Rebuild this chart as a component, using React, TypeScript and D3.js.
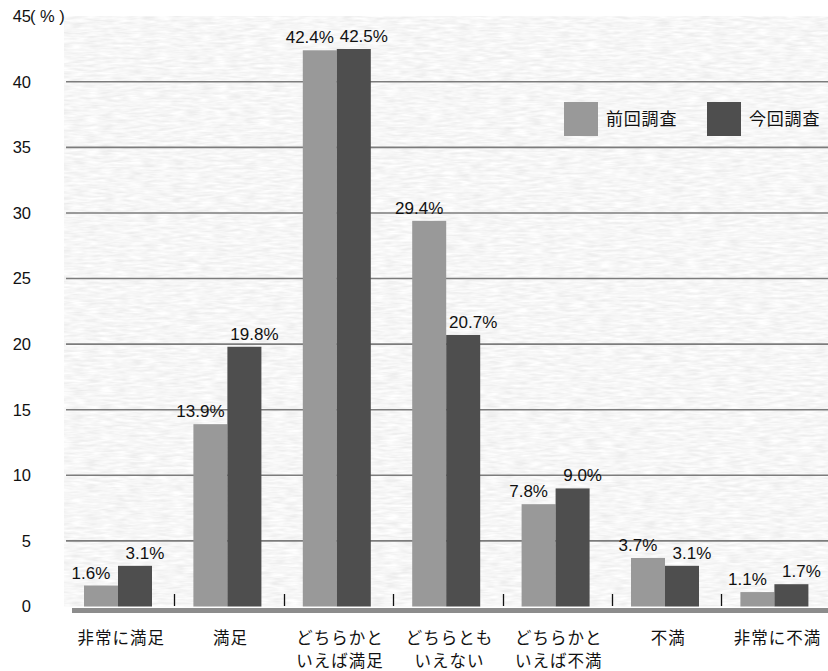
import React from "react";
import * as d3 from "d3";

// 満足度調査：前回と今回の回答割合（%）
const categories: string[][] = [
  ["非常に満足"],
  ["満足"],
  ["どちらかと", "いえば満足"],
  ["どちらとも", "いえない"],
  ["どちらかと", "いえば不満"],
  ["不満"],
  ["非常に不満"],
];
const seriesNames = ["前回調査", "今回調査"];
const previousValues = [1.6, 13.9, 42.4, 29.4, 7.8, 3.7, 1.1];
const currentValues = [3.1, 19.8, 42.5, 20.7, 9.0, 3.1, 1.7];
const yTicks = [0, 5, 10, 15, 20, 25, 30, 35, 40, 45];

const W = 828;
const H = 671;
const LATIN = "'Liberation Sans', Arial, sans-serif";
const CJK = "'Noto Sans CJK JP', 'Noto Sans', sans-serif";
const COLORS = ["#999999", "#4e4e4e"];
const LABEL_SHIFT = [-10, 10];

export default function App() {
  const plotLeft = 64;
  const plotTop = 16;
  const plotBottom = 606.5;
  const y = d3.scaleLinear().domain([0, 45]).range([plotBottom, 16.2]);
  const keys = categories.map((c) => c.join(""));
  const x = d3.scaleBand<string>().domain(keys).range([65, 830.8]).padding(0);
  const bw = x.bandwidth();
  const inner = d3.scaleBand<number>().domain([0, 1]).range([19, 87]).padding(0);
  const series = [previousValues, currentValues];

  return (
    <svg
      width={W}
      height={H}
      viewBox={`0 0 ${W} ${H}`}
      style={{ position: "absolute", left: 0, top: 0, background: "#fff" }}
    >
      <defs>
        <filter id="grain" x="0" y="0" width="100%" height="100%">
          <feTurbulence type="fractalNoise" baseFrequency="0.07 0.4" numOctaves={2} seed={4} />
          <feColorMatrix
            type="matrix"
            values="0.26 0 0 0 0.795  0.26 0 0 0 0.795  0.26 0 0 0 0.795  0 0 0 0 1"
          />
          <feComposite in2="SourceGraphic" operator="in" />
        </filter>
      </defs>

      {/* textured plot background */}
      <rect x={plotLeft} y={plotTop} width={W - plotLeft} height={plotBottom - plotTop} fill="#ebebeb" filter="url(#grain)" />

      {/* gridlines */}
      {yTicks.filter((t) => t > 0 && t < 45).map((t) => (
        <line key={t} x1={66} x2={W} y1={y(t)} y2={y(t)} stroke="#7c7c7c" strokeWidth={1.6} />
      ))}

      {/* floor */}
      <rect x={72} y={608} width={W - 72} height={5} fill="#8c8c8c" />

      {/* category boundary ticks */}
      {keys.slice(1).map((k) => (
        <line key={k} x1={Math.round(x(k)!) + 0.5} x2={Math.round(x(k)!) + 0.5} y1={594} y2={606} stroke="#111" strokeWidth={1.3} />
      ))}

      {/* bars */}
      {keys.map((k, i) => (
        <g key={k}>
          {series.map((vals, s) => (
            <rect
              key={s}
              x={x(k)! + inner(s)!}
              y={y(vals[i])}
              width={inner.bandwidth()}
              height={plotBottom - y(vals[i])}
              fill={COLORS[s]}
            />
          ))}
        </g>
      ))}

      {/* value labels */}
      {keys.map((k, i) =>
        series.map((vals, s) => (
          <text
            key={`${k}-${s}`}
            x={x(k)! + inner(s)! + inner.bandwidth() / 2 + LABEL_SHIFT[s]}
            y={y(vals[i]) - 7}
            textAnchor="middle"
            fontFamily={LATIN}
            fontSize={17}
            fill="#111"
          >
            {vals[i].toFixed(1)}%
          </text>
        ))
      )}

      {/* y axis labels */}
      {yTicks.map((t) => (
        <text key={t} x={31} y={y(t)} dy="0.36em" textAnchor="end" fontFamily={LATIN} fontSize={16.5} fill="#111">
          {t}
        </text>
      ))}
      <text x={30} y={y(45)} dy="0.36em" fontFamily={LATIN} fontSize={16.5} fill="#111" xmlSpace="preserve">
        ( % )
      </text>

      {/* category labels */}
      {categories.map((lines, i) => (
        <text
          key={keys[i]}
          x={x(keys[i])! + bw / 2 + 1.5}
          y={644}
          textAnchor="middle"
          fontFamily={CJK}
          fontSize={16.5}
          letterSpacing={1}
          fill="#111"
        >
          {lines.map((ln, j) => (
            <tspan key={j} x={x(keys[i])! + bw / 2 + 1.5} dy={j === 0 ? 0 : 23}>
              {ln}
            </tspan>
          ))}
        </text>
      ))}

      {/* legend */}
      {seriesNames.map((name, s) => (
        <g key={name} transform={`translate(${564 + s * 143},102)`}>
          <rect width={34} height={34} fill={COLORS[s]} />
          <text x={42} y={17} dy="0.36em" fontFamily={CJK} fontSize={17} letterSpacing={0.8} fill="#111">
            {name}
          </text>
        </g>
      ))}
    </svg>
  );
}
